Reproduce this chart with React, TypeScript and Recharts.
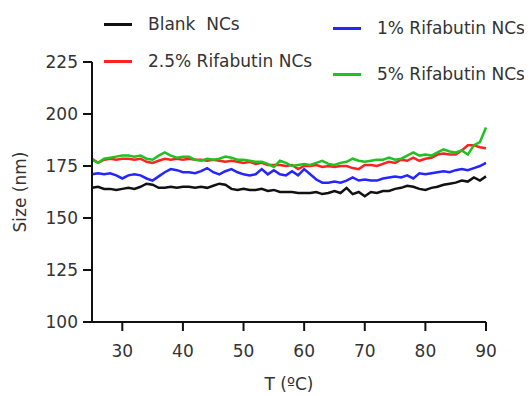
import React from 'react';
import { LineChart, Line, XAxis, YAxis, Legend } from 'recharts';

const temps = [
  25, 26, 27, 28, 29, 30, 31, 32, 33, 34, 35, 36, 37, 38, 39, 40, 41, 42, 43, 44, 45, 46,
  47, 48, 49, 50, 51, 52, 53, 54, 55, 56, 57, 58, 59, 60, 61, 62, 63, 64, 65, 66, 67, 68,
  69, 70, 71, 72, 73, 74, 75, 76, 77, 78, 79, 80, 81, 82, 83, 84, 85, 86, 87, 88, 89, 90,
];

const blankNCs = [
  164.5, 165, 164, 164, 163.5, 164, 164.5, 164, 165, 166.5, 166, 164.5, 164.5, 165, 164.5, 165,
  165, 164.5, 165, 164.5, 165.5, 166.5, 166, 164, 163.5, 164, 163.5, 163.5, 164, 163, 163.5, 162.5,
  162.5, 162.5, 162, 162, 162, 162.5, 161.5, 162, 163, 162, 164.5, 161.5, 162.5, 160.5, 162.5, 162,
  163, 163, 164, 164.5, 165.5, 165, 164, 163.5, 164.5, 165, 166, 166.5, 167, 168, 167.5, 169.5, 168, 170,
];

const rif1 = [
  171, 171.5, 171, 171.5, 170.5, 169, 170.5, 171, 170.5, 169, 168, 170, 172, 173.5, 173, 172,
  172, 171.5, 172.5, 174, 172, 171, 172.5, 173.5, 172, 171, 170.5, 171, 173.5, 171, 173, 171,
  170.5, 172.5, 170.5, 173.5, 171, 168.5, 167, 167, 167.5, 167, 168, 169.5, 168, 168.5, 168, 168,
  169, 169.5, 170, 169.5, 170.5, 169, 171.5, 171, 171.5, 172, 172.5, 172, 173, 173.5, 173, 174, 175, 176.5,
];

const rif25 = [
  178.5, 176.5, 178, 178.5, 178, 178.5, 178.5, 178, 178.5, 177, 176.5, 177.5, 178.5, 178, 178.5, 178,
  178.5, 178, 178, 177.5, 178, 177.5, 177, 177.5, 177, 176.5, 177, 176, 176.5, 175.5, 175.5, 175.5,
  175, 175.5, 173.5, 175, 175, 175.5, 174.5, 175, 174.5, 175, 175, 174, 173.5, 175.5, 175.5, 175,
  176, 177, 176.5, 178, 177.5, 179, 177.5, 178.5, 179, 180.5, 181, 180.5, 180.5, 182.5, 185, 185, 184, 183.5,
];

const rif5 = [
  178, 176.5, 178.5, 179, 179.5, 180, 180, 179.5, 180, 178.5, 178, 180, 181.5, 180, 179, 179.5,
  179.5, 178, 177.5, 178.5, 178, 178.5, 179.5, 179, 178, 178, 177.5, 177, 177, 176, 174.5, 177.5,
  176.5, 175, 175.5, 176, 175.5, 176.5, 177.5, 176, 175.5, 176.5, 177, 178.5, 177.5, 177, 177.5, 178,
  178, 179, 178, 178.5, 180, 181.5, 180, 180.5, 180, 181.5, 183, 182, 181.5, 182.5, 180.5, 185, 186.5, 193.5,
];

const xTicks = [30, 40, 50, 60, 70, 80, 90];
const yTicks = [100, 125, 150, 175, 200, 225];

const series = [
  { key: 'blank', name: 'Blank  NCs', color: '#111111' },
  { key: 'rif1', name: '1% Rifabutin NCs', color: '#2525ff' },
  { key: 'rif25', name: '2.5% Rifabutin NCs', color: '#ff2222' },
  { key: 'rif5', name: '5% Rifabutin NCs', color: '#1fc21f' },
];

const data = temps.map((t, i) => ({
  t,
  blank: blankNCs[i],
  rif1: rif1[i],
  rif25: rif25[i],
  rif5: rif5[i],
}));

const FONT = '"DejaVu Sans", sans-serif';
const TEXT = '#333';

// two-column legend laid out above the plot
const legendSpots: Record<string, { left: number; top: number }> = {
  blank: { left: 96, top: 16 },
  rif25: { left: 96, top: 53 },
  rif1: { left: 325, top: 20 },
  rif5: { left: 325, top: 66 },
};

const LegendContent = () => (
  <div style={{ position: 'relative', width: 524, height: 80, fontFamily: FONT }}>
    {series.map((s) => {
      const p = legendSpots[s.key];
      return (
        <div
          key={s.key}
          style={{
            position: 'absolute',
            left: p.left,
            top: p.top - 12,
            height: 24,
            display: 'flex',
            alignItems: 'center',
            whiteSpace: 'pre',
          }}
        >
          <span style={{ display: 'inline-block', width: 28, height: 3, background: s.color }} />
          <span style={{ marginLeft: 16, fontSize: 17, color: TEXT }}>{s.name}</span>
        </div>
      );
    })}
  </div>
);

export default function App() {
  return (
    <LineChart
      width={524}
      height={388}
      data={data}
      margin={{ top: 54, right: 46, left: 4, bottom: 44 }}
    >
      <XAxis
        dataKey="t"
        type="number"
        domain={[25, 90]}
        ticks={xTicks}
        height={30}
        stroke="#111"
        strokeWidth={2}
        tickSize={9}
        tickMargin={14}
        tick={{ fill: TEXT, fontSize: 17, fontFamily: FONT }}
        label={{ value: 'T (ºC)', position: 'bottom', offset: 26, fill: TEXT, fontSize: 17, fontFamily: FONT }}
      />
      <YAxis
        type="number"
        domain={[100, 225]}
        ticks={yTicks}
        width={80}
        stroke="#111"
        strokeWidth={2}
        tickSize={9}
        tickMargin={5}
        tick={{ fill: TEXT, fontSize: 17, fontFamily: FONT }}
        label={{
          value: 'Size  (nm)',
          angle: -90,
          position: 'insideLeft',
          offset: 8,
          fill: TEXT,
          fontSize: 17,
          fontFamily: FONT,
          style: { textAnchor: 'middle', whiteSpace: 'pre' },
        }}
      />
      <Legend
        layout="horizontal"
        verticalAlign="middle"
        align="center"
        content={<LegendContent />}
        wrapperStyle={{ top: 0, left: 0, width: 524, height: 80 }}
      />
      {series.map((s) => (
        <Line
          key={s.key}
          dataKey={s.key}
          name={s.name}
          stroke={s.color}
          strokeWidth={2.5}
          dot={false}
          type="linear"
          isAnimationActive={false}
        />
      ))}
    </LineChart>
  );
}
